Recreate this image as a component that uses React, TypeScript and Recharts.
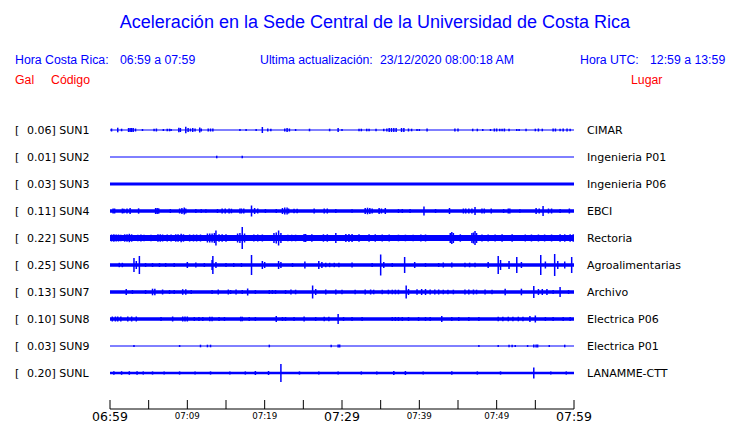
import { ComposedChart, Line, Scatter, ErrorBar, XAxis, YAxis } from "recharts"

const BLUE = "#0000ff"
const RED = "#ff0000"

// stations, top to bottom
const codes = ["SUN1", "SUN2", "SUN3", "SUN4", "SUN5", "SUN6", "SUN7", "SUN8", "SUN9", "SUNL"]
const peaks = ["0.06", "0.01", "0.03", "0.11", "0.22", "0.25", "0.13", "0.10", "0.03", "0.20"]
const places = [
  "CIMAR",
  "Ingenieria P01",
  "Ingenieria P06",
  "EBCI",
  "Rectoria",
  "Agroalimentarias",
  "Archivo",
  "Electrica P06",
  "Electrica P01",
  "LANAMME-CTT",
]
// background noise half width of each trace (trace units)
const noise = [0.6, 0.5, 1.4, 1.65, 2.9, 1.65, 1.65, 1.75, 0.5, 1.25]

// minutes after 06:59
const minuteTicks = [0, 5, 10, 15, 20, 25, 30, 35, 40, 45, 50, 55, 60]
const minuteLabels = ["06:59", "", "07:09", "", "07:19", "", "07:29", "", "07:39", "", "07:49", "", "07:59"]
const bigLabels = ["06:59", "07:29", "07:59"]

// bursts: [minute, half height]
const sun1 = [
  [0.2, 1.5], [1.0, 2.3], [1.5, 1.3], [2.4, 2], [2.6, 2], [2.8, 2], [3.0, 2], [3.3, 1.5], [4.2, 1],
  [5.7, 1.3], [6.0, 1.5], [6.9, 1], [7.4, 1.3], [7.7, 1.3], [7.9, 1], [8.9, 2.3], [9.1, 2], [9.8, 3.3],
  [10.1, 2], [10.4, 1.5], [10.7, 2], [11.0, 1.5], [11.6, 2.5], [11.8, 1.5], [12.7, 1.5], [13.0, 1.5],
  [13.3, 1.5], [16.8, 1], [17.6, 1], [18.9, 1], [19.7, 3], [20.4, 1.5], [20.8, 1.3], [22.6, 1.5],
  [22.9, 2], [23.2, 1.5], [24.0, 1], [25.8, 1.3], [28.4, 1.3], [29.5, 2], [30.0, 1], [32.2, 1.3],
  [32.5, 1.3], [33.2, 1.3], [33.5, 1.3], [34.4, 1.3], [35.4, 1.3], [35.8, 1.5], [36.1, 2], [36.4, 2],
  [36.7, 2], [37.0, 2], [37.7, 2], [38.0, 2], [38.6, 1.5], [39.0, 1.3], [39.7, 1], [40.0, 1], [41.0, 1.5],
  [44.6, 1.5], [45.0, 1.5], [46.9, 1.3], [47.5, 1.3], [48.2, 1], [49.2, 1], [49.7, 1.5], [50.0, 1.5],
  [50.4, 1.3], [50.7, 1.3], [51.0, 1.5], [51.6, 1.3], [52.6, 1], [52.9, 1], [53.8, 1.3], [55.0, 1.3],
  [55.4, 1.5], [55.9, 1.3], [57.3, 1.5], [57.6, 1.5], [58.2, 1.3], [58.6, 1.5], [59.1, 1.5], [59.5, 1.3],
]
const sun2 = [[13.8, 1.3], [17.1, 1.3]]
const sun3: number[][] = []
const sun4 = [
  [0.4, 2.5], [0.6, 2.5], [1.6, 2.5], [1.8, 2.3], [2.2, 2.5], [2.6, 3], [3.7, 2.7], [5.9, 3], [6.1, 3],
  [6.3, 2.7], [7.8, 2], [9.0, 2.5], [9.3, 3], [9.6, 3.5], [9.8, 2.5], [11.1, 2], [11.8, 1.8], [12.4, 1.8],
  [13.9, 2], [14.5, 2.5], [14.9, 2.5], [15.4, 2.5], [15.7, 2.3], [16.8, 2.5], [17.0, 2.5], [17.3, 2.5],
  [18.3, 5.5], [18.7, 3], [19.1, 2.5], [20.1, 2], [21.5, 2], [22.3, 3], [22.6, 3.5], [22.9, 3.5],
  [23.1, 2.5], [23.8, 2.3], [24.2, 2.3], [26.4, 2.5], [27.7, 2.5], [28.1, 2.5], [29.2, 2], [31.3, 1.8],
  [33.0, 3], [33.3, 3.3], [33.6, 3], [33.9, 2.5], [34.8, 3], [35.1, 2.5], [35.6, 3], [37.3, 2], [37.8, 2],
  [38.8, 2], [40.6, 4.5], [42.1, 2], [43.9, 3], [45.7, 2.5], [46.0, 2.5], [46.4, 2.5], [46.8, 2.5],
  [47.2, 4], [48.1, 2.5], [48.4, 2.5], [49.3, 2.5], [50.9, 2], [51.5, 2.5], [51.7, 2.5], [53.0, 1.8],
  [55.1, 3], [55.5, 2.5], [56.0, 5], [56.7, 2.5], [57.1, 2.5], [58.2, 2], [59.4, 2.5],
]
const sun5 = [
  [0.2, 3.5], [0.5, 3.7], [0.8, 3.5], [1.1, 3.5], [1.4, 3.3], [1.9, 3.7], [2.2, 3.7], [2.5, 4.2], [2.8, 3.7],
  [3.6, 3.3], [4.0, 3.5], [4.4, 3.3], [5.3, 3.3], [6.2, 3.7], [6.5, 3.7], [6.8, 3.5], [7.4, 3.5], [7.9, 3.5],
  [8.5, 3.7], [8.8, 3.7], [9.2, 4.2], [9.5, 3.7], [10.3, 3.5], [10.8, 3.5], [11.2, 3.5], [11.7, 3.5],
  [12.6, 4.5], [12.9, 4.5], [13.2, 4.5], [13.5, 5], [13.7, 7.5], [14.1, 3.7], [14.5, 3.7], [15.0, 3.7],
  [16.5, 4.5], [16.8, 5], [17.1, 11], [17.4, 4.5], [18.6, 3.5], [19.1, 3.5], [19.7, 3.5], [21.2, 5],
  [21.5, 5.5], [21.8, 7.5], [22.1, 5], [23.0, 3.3], [23.5, 3.3], [24.0, 3.3], [25.1, 4], [25.3, 4], [26.1, 3.7],
  [27.6, 3.7], [28.1, 3.7], [29.2, 5], [30.5, 4], [30.9, 4], [31.3, 4], [32.2, 3.7], [33.5, 3.7],
  [34.3, 3.7], [35.2, 3.5], [36.1, 3.5], [37.3, 3.3], [38.2, 3.3], [39.2, 3.3], [40.2, 3.5], [40.8, 3.5],
  [44.0, 5], [44.2, 6], [44.4, 5], [45.3, 3.7], [46.8, 5], [47.0, 5.5], [47.2, 7], [47.4, 5], [48.1, 3.5],
  [48.9, 3.5], [49.8, 3.5], [50.7, 3.7], [52.0, 3.7], [53.7, 3.5], [54.5, 3.5], [55.4, 3.5], [56.2, 3.5],
  [57.1, 3.5], [58.2, 3.7], [58.8, 3.7], [59.5, 3.7], [59.9, 3.7],
]
const sun6 = [
  [1.2, 2.2], [1.6, 2.2], [3.1, 7], [3.4, 4], [3.8, 9], [4.6, 2], [5.5, 2], [6.4, 2], [7.2, 2], [8.3, 2],
  [10.0, 3], [11.1, 2.5], [12.2, 2], [13.2, 5], [13.3, 9], [13.7, 3], [15.0, 2], [16.0, 2], [17.0, 2],
  [18.3, 10], [19.7, 4], [20.0, 3], [21.8, 4], [22.1, 3], [23.6, 2], [25.2, 3.5], [27.0, 4], [27.4, 3],
  [27.9, 2.2], [28.4, 2.2], [29.0, 2.2], [29.6, 2.2], [31.3, 2.5], [33.9, 2], [35.0, 10.5], [35.4, 3],
  [36.5, 2], [38.1, 8], [39.4, 3], [40.8, 2], [42.5, 2], [43.1, 2.5], [44.2, 2.5], [45.9, 2.3],
  [46.5, 2.3], [47.2, 2.3], [48.9, 3], [50.2, 9], [50.5, 5], [51.6, 4], [52.6, 8], [53.2, 3], [55.7, 10],
  [56.3, 3.5], [57.5, 11], [57.9, 4], [58.8, 3.5], [59.7, 8],
]
const sun7 = [
  [2.1, 3], [2.9, 2], [4.6, 2], [5.5, 3.3], [5.8, 3.3], [6.8, 2.5], [7.7, 2], [8.3, 2], [9.4, 2.8],
  [9.8, 2.8], [10.5, 2], [13.2, 2], [14.0, 2.5], [15.3, 2.5], [15.6, 2], [16.3, 2.5], [17.1, 2],
  [17.8, 3.5], [18.8, 2], [20.6, 2], [21.0, 2], [21.4, 2], [22.7, 2], [23.4, 2.5], [24.0, 2.3], [26.2, 6.5],
  [26.6, 3], [27.9, 2.5], [29.2, 2.5], [30.0, 2.3], [31.7, 2.3], [33.0, 2.5], [33.7, 2.5], [34.1, 2.3],
  [35.2, 2.3], [36.0, 2.3], [36.5, 2.3], [36.9, 2.3], [37.3, 2.3], [38.3, 6.5], [38.6, 3], [39.7, 2.8],
  [40.3, 3], [40.8, 3], [41.4, 2.5], [42.0, 2.5], [42.5, 2.5], [43.1, 2.3], [43.7, 2.3], [44.4, 2.3],
  [45.9, 2.5], [46.4, 2.5], [47.0, 2.5], [47.4, 2.3], [48.5, 2.5], [49.4, 2.3], [51.1, 3.3], [53.2, 3.3],
  [54.8, 6], [55.4, 3], [55.9, 3], [56.5, 3], [57.3, 2], [58.2, 5], [59.3, 2],
]
const sun8 = [
  [0.3, 2.5], [0.7, 2.5], [1.0, 2.5], [1.4, 2.5], [2.3, 2.5], [2.8, 2.5], [3.4, 2.5], [6.6, 2], [8.1, 2.5],
  [9.4, 2.5], [9.7, 2.5], [10.0, 2.5], [10.9, 2], [11.5, 2], [12.0, 2], [12.9, 2.3], [13.2, 2.3], [14.1, 2],
  [14.8, 2], [16.9, 2.3], [17.1, 2.3], [18.0, 2], [18.8, 2], [21.5, 3], [22.3, 2], [22.7, 2], [23.8, 2],
  [25.1, 2.5], [26.6, 2], [27.7, 2.3], [28.3, 2.3], [29.5, 5], [30.2, 2], [31.3, 2], [32.6, 2], [36.5, 2],
  [36.9, 2], [37.3, 2], [37.8, 2], [38.6, 2], [39.9, 2], [40.8, 2], [41.4, 2], [42.9, 3], [44.2, 2],
  [45.1, 2], [46.4, 2], [47.7, 2], [50.2, 2.3], [50.8, 2.3], [51.5, 2.3], [52.1, 2.3], [52.8, 2.3],
  [53.4, 2.3], [54.3, 3], [55.0, 3.5], [56.3, 2], [57.3, 2], [58.6, 2], [59.5, 2],
]
const sun9 = [
  [3.1, 1], [9.0, 1], [11.7, 1.3], [12.6, 1.3], [13.0, 1.3], [20.6, 1.3], [28.6, 1.3], [29.5, 1.5],
  [29.7, 1.5], [47.7, 1], [50.2, 1], [51.6, 1.3], [52.0, 1.3], [52.4, 1], [54.0, 1], [54.8, 1.5],
  [55.1, 1.5], [55.3, 1.5], [56.8, 1], [58.8, 1.3],
]
const sunL = [
  [0.5, 1.8], [1.5, 1.8], [2.5, 1.8], [3.5, 1.8], [4.3, 1.6], [5.5, 1.6], [7.0, 1.6], [9.0, 1.6],
  [11.0, 1.6], [13.0, 1.6], [15.5, 1.6], [17.5, 1.6], [18.8, 2], [20.5, 2], [22.1, 9], [24.5, 1.6],
  [27.0, 1.6], [29.5, 1.6], [32.5, 1.6], [34.5, 1.6], [36.7, 2], [38.2, 2], [40.5, 1.6], [44.2, 1.8],
  [47.5, 1.6], [50.5, 1.6], [54.8, 5.5], [57.0, 1.6], [59.0, 1.6],
]
const bursts = [sun1, sun2, sun3, sun4, sun5, sun6, sun7, sun8, sun9, sunL]

const ROW = 27
const rowY = codes.map((_, i) => ROW * (i + 1))
const font = "'DejaVu Sans', sans-serif"
const sans = "'Liberation Sans', Arial, sans-serif"

function StationTick(props: any) {
  const { y, payload } = props
  const i = rowY.indexOf(payload.value)
  return (
    <g fontFamily={font} fontSize={11} fill="#000">
      <text x={15} y={y} dy="0.36em">[</text>
      <text x={27} y={y} dy="0.36em">{`${peaks[i]}] ${codes[i]}`}</text>
    </g>
  )
}

function TimeTick(props: any) {
  const { x, y, index } = props
  const label = minuteLabels[index]
  const big = bigLabels.includes(label)
  return (
    <g>
      <line x1={x} x2={x} y1={y - 9} y2={y} stroke="#000" />
      {label && (
        <text x={x} y={y} dy={big ? 12 : 10} textAnchor="middle" fontFamily={font} fontSize={big ? 12.5 : 8.7} fill="#000">
          {label}
        </text>
      )}
    </g>
  )
}

const txt = (left: number, top: number, size: number, color: string) => ({
  position: "absolute" as const,
  left,
  top,
  fontSize: size,
  lineHeight: "16px",
  color,
  fontFamily: sans,
  whiteSpace: "pre" as const,
})

export default function App() {
  return (
    <div style={{ position: "absolute", left: 0, top: 0, width: 740, height: 423, background: "#fff" }}>
      <div style={{ ...txt(5, 10, 18, BLUE), width: 740, textAlign: "center", lineHeight: "24px" }}>
        Aceleración en la Sede Central de la Universidad de Costa Rica
      </div>
      <div style={txt(15, 52, 12.3, BLUE)}>Hora Costa Rica:</div>
      <div style={txt(120, 52, 12.3, BLUE)}>06:59 a 07:59</div>
      <div style={txt(260, 52, 12.3, BLUE)}>Ultima actualización:</div>
      <div style={txt(380, 52, 12.3, BLUE)}>23/12/2020 08:00:18 AM</div>
      <div style={txt(580, 52, 12.3, BLUE)}>Hora UTC:</div>
      <div style={txt(650, 52, 12.3, BLUE)}>12:59 a 13:59</div>
      <div style={txt(15, 72, 12.3, RED)}>Gal</div>
      <div style={txt(51, 72, 12.3, RED)}>Código</div>
      <div style={txt(631, 72, 12.3, RED)}>Lugar</div>

      <div style={{ position: "absolute", left: 0, top: 0 }}>
        <ComposedChart width={740} height={423} margin={{ top: 103, right: 15, bottom: 0, left: 15 }}>
          <XAxis
            dataKey="t"
            type="number"
            domain={[0, 60]}
            ticks={minuteTicks}
            interval={0}
            height={14}
            tickSize={0}
            tickMargin={0}
            tickLine={false}
            axisLine={{ stroke: "#000" }}
            tick={<TimeTick />}
          />
          <YAxis
            yAxisId="left"
            type="number"
            domain={[0, 306]}
            reversed
            allowDataOverflow
            ticks={rowY}
            interval={0}
            width={95}
            axisLine={false}
            tickLine={false}
            tick={<StationTick />}
          />
          <YAxis
            yAxisId="right"
            orientation="right"
            type="number"
            domain={[0, 306]}
            reversed
            allowDataOverflow
            ticks={rowY}
            interval={0}
            width={151}
            axisLine={false}
            tickLine={false}
            tickSize={0}
            tickMargin={13}
            tickFormatter={(v: number) => places[rowY.indexOf(v)]}
            tick={{ fill: "#000", fontSize: 11, fontFamily: font, textAnchor: "start" }}
          />
          {codes.map((c, i) => (
            <Line
              key={`base-${c}`}
              yAxisId="left"
              data={[{ t: 0, y: rowY[i] }, { t: 60, y: rowY[i] }]}
              dataKey="y"
              stroke={BLUE}
              strokeWidth={noise[i] * 2}
              dot={false}
              activeDot={false}
              isAnimationActive={false}
            />
          ))}
          {codes.map((c, i) => (
            <Scatter
              key={`burst-${c}`}
              yAxisId="left"
              data={bursts[i].map(([t, amp]) => ({ t, y: rowY[i], amp }))}
              dataKey="y"
              shape={() => <g />}
              isAnimationActive={false}
            >
              <ErrorBar dataKey="amp" direction="y" width={0} stroke={BLUE} strokeWidth={1.5} isAnimationActive={false} />
            </Scatter>
          ))}
        </ComposedChart>
      </div>
    </div>
  )
}
